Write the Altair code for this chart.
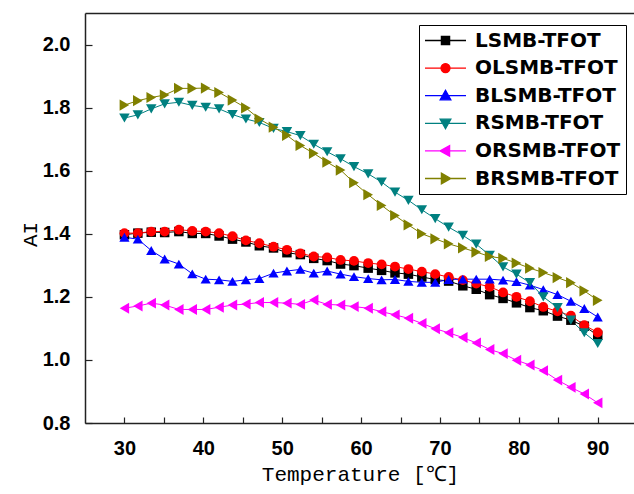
import altair as alt
import pandas as pd

temperature = [30.0, 31.7, 33.4, 35.1, 36.9, 38.6, 40.3, 42.0, 43.7, 45.4, 47.1, 48.9,
               50.6, 52.3, 54.0, 55.7, 57.4, 59.1, 60.9, 62.6, 64.3, 66.0, 67.7, 69.4,
               71.1, 72.9, 74.6, 76.3, 78.0, 79.7, 81.4, 83.1, 84.9, 86.6, 88.3, 90.0]

lsmb = [1.397, 1.402, 1.405, 1.404, 1.407, 1.401, 1.401, 1.393, 1.383, 1.374,
        1.362, 1.355, 1.340, 1.334, 1.322, 1.315, 1.304, 1.299, 1.291, 1.284,
        1.276, 1.272, 1.263, 1.255, 1.250, 1.235, 1.224, 1.207, 1.195, 1.181,
        1.166, 1.156, 1.139, 1.126, 1.107, 1.078]
olsmb = [1.402, 1.402, 1.407, 1.407, 1.413, 1.409, 1.407, 1.402, 1.392, 1.379,
         1.370, 1.359, 1.349, 1.338, 1.328, 1.325, 1.317, 1.314, 1.307, 1.303,
         1.296, 1.288, 1.280, 1.272, 1.263, 1.253, 1.242, 1.232, 1.214, 1.200,
         1.186, 1.168, 1.154, 1.140, 1.110, 1.087]
blsmb = [1.389, 1.383, 1.347, 1.320, 1.304, 1.273, 1.256, 1.254, 1.249, 1.254,
         1.258, 1.275, 1.282, 1.287, 1.275, 1.282, 1.272, 1.264, 1.258, 1.254,
         1.255, 1.249, 1.246, 1.246, 1.255, 1.256, 1.256, 1.256, 1.253, 1.248,
         1.237, 1.223, 1.207, 1.186, 1.163, 1.136]
rsmb = [1.767, 1.777, 1.796, 1.812, 1.817, 1.807, 1.801, 1.796, 1.778, 1.764,
        1.753, 1.734, 1.724, 1.711, 1.684, 1.660, 1.638, 1.613, 1.590, 1.564,
        1.532, 1.506, 1.476, 1.448, 1.421, 1.395, 1.367, 1.332, 1.295, 1.272,
        1.245, 1.200, 1.166, 1.126, 1.086, 1.052]
orsmb = [1.164, 1.171, 1.180, 1.174, 1.160, 1.160, 1.160, 1.167, 1.174, 1.177,
         1.182, 1.182, 1.180, 1.176, 1.190, 1.176, 1.174, 1.169, 1.164, 1.153,
         1.143, 1.132, 1.116, 1.099, 1.086, 1.071, 1.054, 1.033, 1.020, 0.999,
         0.984, 0.966, 0.936, 0.913, 0.892, 0.864]
brsmb = [1.808, 1.822, 1.832, 1.840, 1.861, 1.861, 1.862, 1.848, 1.824, 1.799,
         1.764, 1.738, 1.712, 1.680, 1.655, 1.627, 1.602, 1.562, 1.524, 1.490,
         1.458, 1.428, 1.400, 1.384, 1.368, 1.355, 1.342, 1.328, 1.322, 1.307,
         1.291, 1.277, 1.261, 1.245, 1.219, 1.189]

series_names = ["LSMB-TFOT", "OLSMB-TFOT", "BLSMB-TFOT", "RSMB-TFOT", "ORSMB-TFOT", "BRSMB-TFOT"]
series_values = [lsmb, olsmb, blsmb, rsmb, orsmb, brsmb]
series_colors = ["#000000", "#ff0000", "#0000ff", "#008080", "#ff00ff", "#808000"]
series_shapes = ["square", "circle", "triangle-up", "triangle-down", "triangle-left", "triangle-right"]
series_sizes = [90, 125, 150, 150, 150, 150]
legend_paths = [
    "M-1,0H1M-0.2,-0.2H0.2V0.2H-0.2Z",
    "M-1,0H1M-0.22,0A0.22,0.22 0 1,0 0.22,0A0.22,0.22 0 1,0 -0.22,0Z",
    "M-1,0H1M0,-0.26L0.26,0.2L-0.26,0.2Z",
    "M-1,0H1M0,0.26L0.26,-0.2L-0.26,-0.2Z",
    "M-1,0H1M-0.26,0L0.2,-0.26L0.2,0.26Z",
    "M-1,0H1M0.26,0L-0.2,-0.26L-0.2,0.26Z",
]
x_ticks = [30, 35, 40, 45, 50, 55, 60, 65, 70, 75, 80, 85, 90]
y_ticks = [0.8, 0.9, 1.0, 1.1, 1.2, 1.3, 1.4, 1.5, 1.6, 1.7, 1.8, 1.9, 2.0]

records = []
for name, values in zip(series_names, series_values):
    for t, v in zip(temperature, values):
        records.append({"Temperature": t, "AI": v, "Series": name})
df = pd.DataFrame(records)

x_scale = alt.Scale(domain=[25, 94.6], nice=False, zero=False)
y_scale = alt.Scale(domain=[0.8, 2.1], nice=False, zero=False)
color_scale = alt.Scale(domain=series_names, range=series_colors)

x_axis = alt.Axis(
    values=x_ticks,
    labelExpr="datum.value % 10 == 0 ? format(datum.value, 'd') : ''",
    tickSize=alt.ExprRef(expr="-6"), tickColor="#222", tickWidth=1.2,
    labelPadding=21, labelFont="Liberation Sans", labelFontSize=20,
    labelFontWeight="bold", labelColor="black", labelOverlap=False, labelFlush=False,
    domainColor="#222", domainWidth=1.5, grid=False,
    titleFont="Liberation Mono", titleFontSize=21, titleFontWeight="normal",
    titleColor="black", titleX=275, titleY=51, titleAlign="center", titleBaseline="middle",
)
y_axis = alt.Axis(
    values=y_ticks,
    labelExpr="round(datum.value * 10) % 2 == 0 ? format(datum.value, '.1f') : ''",
    tickSize=alt.ExprRef(expr="-7"), tickColor="#222", tickWidth=1.2,
    labelPadding=22, labelFont="Liberation Sans", labelFontSize=20,
    labelFontWeight="bold", labelColor="black", labelOverlap=False, labelFlush=False,
    domainColor="#222", domainWidth=1.5, grid=False,
    titleFont="Liberation Mono", titleFontSize=21, titleFontWeight="normal",
    titleColor="black", titleX=-55, titleY=221, titleAlign="center", titleBaseline="middle",
    titleAngle=270,
)
top_axis = alt.Axis(orient="top", labels=False, ticks=False, grid=False, title="",
                    domainColor="#222", domainWidth=1.5)

base = alt.Chart(df)

lines = base.mark_line(strokeWidth=1).encode(
    x=alt.X("Temperature:Q", scale=x_scale, axis=x_axis, title="Temperature [℃]"),
    y=alt.Y("AI:Q", scale=y_scale, axis=y_axis, title="AI"),
    color=alt.Color("Series:N", scale=color_scale, legend=None),
)

points = base.mark_point(filled=True, opacity=1).encode(
    x=alt.X("Temperature:Q", scale=x_scale, axis=top_axis),
    y=alt.Y("AI:Q", scale=y_scale),
    color=alt.Color("Series:N", scale=color_scale, legend=None),
    shape=alt.Shape("Series:N", scale=alt.Scale(domain=series_names, range=series_shapes), legend=None),
    size=alt.Size("Series:N", scale=alt.Scale(domain=series_names, range=series_sizes), legend=None),
)

legend_def = alt.Legend(orient="none", legendX=334, legendY=12, title=None,
                        clipHeight=21, rowPadding=6.6)
legend_layer = base.transform_filter("false").mark_point(filled=True, opacity=1).encode(
    x=alt.X("Temperature:Q", scale=x_scale, axis=None),
    y=alt.Y("AI:Q", scale=y_scale),
    fill=alt.Fill("Series:N", scale=color_scale, legend=legend_def),
    stroke=alt.Stroke("Series:N", scale=color_scale, legend=legend_def),
    shape=alt.Shape("Series:N", scale=alt.Scale(domain=series_names, range=legend_paths), legend=legend_def),
)

chart = alt.layer(lines, points, legend_layer).resolve_axis(
    x="independent"
).resolve_scale(
    shape="independent", fill="independent", stroke="independent"
).properties(
    width=549, height=410,
    autosize=alt.AutoSizeParams(type="none"),
    padding={"left": 85, "top": 13, "right": 0, "bottom": 71},
    background="white",
).configure_view(
    stroke="transparent"
).configure_legend(
    strokeColor="black", fillColor="white", padding=5,
    labelFont="DejaVu Sans", labelFontSize=20, labelFontWeight="bold", labelColor="black",
    labelLimit=400, labelOffset=8,
    symbolSize=1681, symbolStrokeWidth=1.3, symbolOpacity=1,
)

chart.save("out.html", embed_options={"renderer": "svg", "actions": False})
